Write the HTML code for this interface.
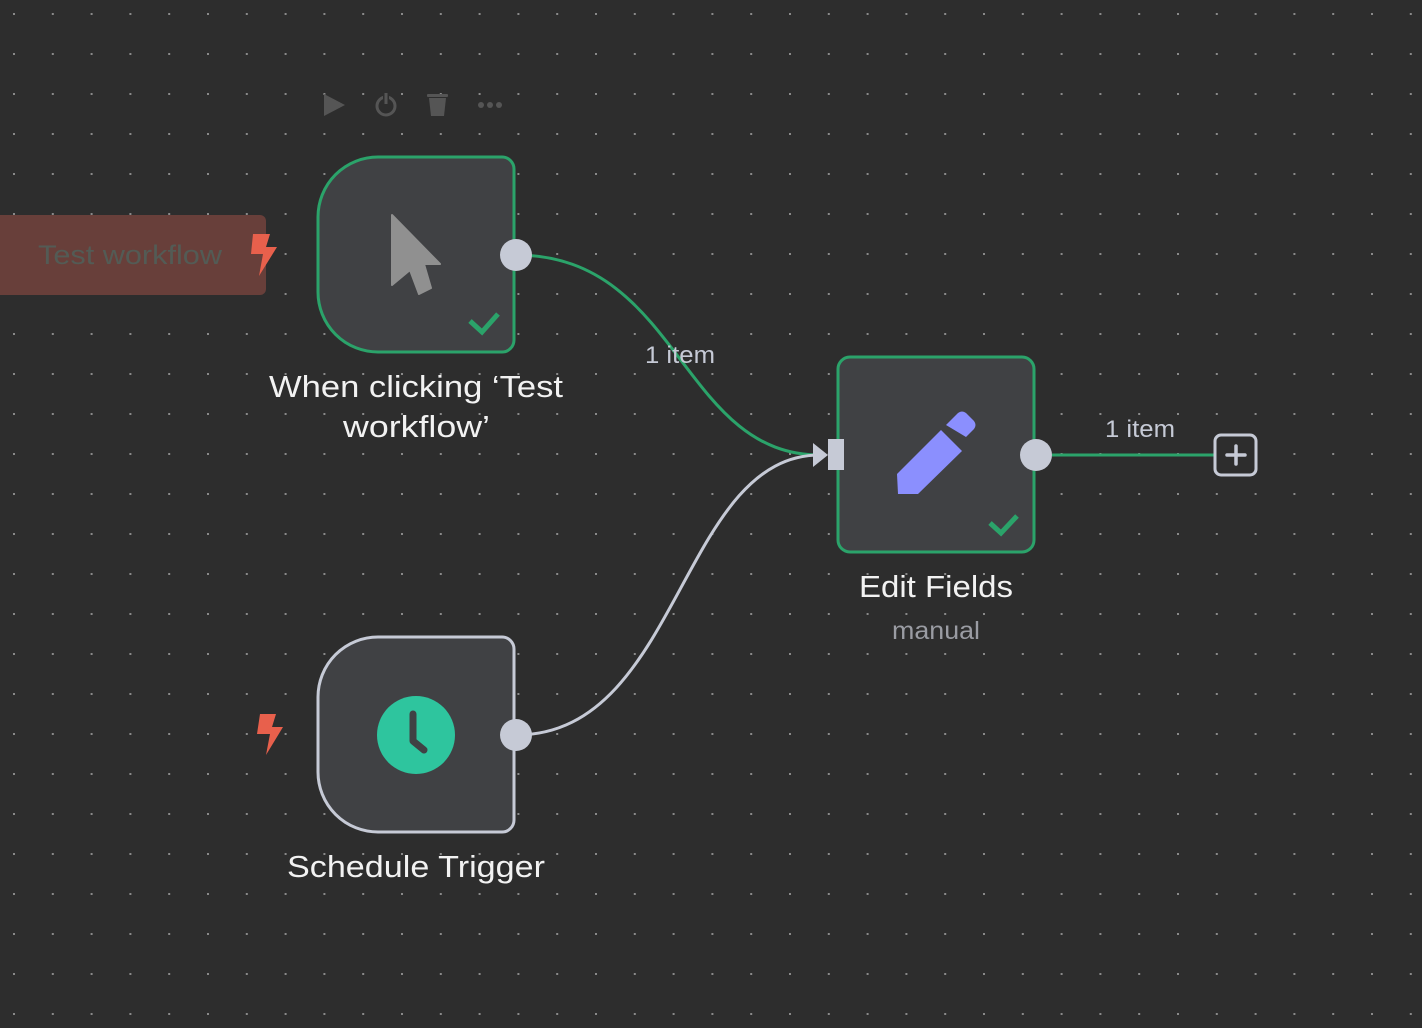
<!DOCTYPE html>
<html><head><meta charset="utf-8"><style>
html,body{margin:0;padding:0;background:#2d2d2d;}
body{width:1422px;height:1028px;overflow:hidden;position:relative;font-family:"Liberation Sans",sans-serif;}
svg{position:absolute;left:0;top:0}
</style></head><body>
<svg width="1422" height="1028" viewBox="0 0 1422 1028">
<defs>
<pattern id="dots" x="13" y="13" width="38.8" height="40" patternUnits="userSpaceOnUse">
<rect x="0" y="0" width="2" height="2" fill="#8a8a8a"/>
</pattern>
</defs>
<rect width="1422" height="1028" fill="#2d2d2d"/>
<rect width="1422" height="1028" fill="url(#dots)"/>

<!-- toolbar -->
<g fill="#555">
<path d="M324,94 L345,105 L324,116 Z"/>
<circle cx="386" cy="106" r="9" fill="none" stroke="#555" stroke-width="3"/>
<rect x="383" y="92" width="6" height="12" fill="#2d2d2d"/>
<rect x="384.5" y="93" width="3" height="11"/>
<rect x="427" y="94" width="21" height="3" rx="1"/>
<path d="M429,98 H446 L444,116 H431 Z"/>
<circle cx="481" cy="105" r="3"/><circle cx="490" cy="105" r="3"/><circle cx="499" cy="105" r="3"/>
</g>

<!-- test workflow button -->
<rect x="-10" y="215" width="276" height="80" rx="6" fill="#683f3a"/>
<text x="38" y="264" textLength="184" lengthAdjust="spacingAndGlyphs" font-size="27" fill="#535b55">Test workflow</text>
<path d="M253,234 H270 L266,247 H277 L259,276 L263,254 H251 Z" fill="#e8604c"/>

<!-- connectors -->
<path d="M516,255 C680,255 680,455 820,455" fill="none" stroke="#2ba36a" stroke-width="3"/>
<path d="M516,735 C680,735 680,455 820,455" fill="none" stroke="#c6cad6" stroke-width="3"/>
<text x="645" y="363" textLength="70" lengthAdjust="spacingAndGlyphs" font-size="24" fill="#c6cad6">1 item</text>

<!-- node 1 -->
<path d="M378,157 H502 A12,12 0 0 1 514,169 V340 A12,12 0 0 1 502,352 H378 A60,60 0 0 1 318,292 V217 A60,60 0 0 1 378,157 Z" fill="#404144" stroke="#2ba36a" stroke-width="3"/>
<path d="M392,215 L440,264 L424,264 L431,288 L419,294 L410,270 L392,285 Z" fill="#909090" stroke="#909090" stroke-width="2" stroke-linejoin="round"/>
<path d="M470,321 L482,332 L498,314" fill="none" stroke="#2ba36a" stroke-width="5"/>
<circle cx="516" cy="255" r="16" fill="#c6cad6"/>
<text x="269" y="397" textLength="294" lengthAdjust="spacingAndGlyphs" font-size="31" fill="#f2f2f2">When clicking ‘Test</text>
<text x="343" y="437" textLength="147" lengthAdjust="spacingAndGlyphs" font-size="31" fill="#f2f2f2">workflow’</text>

<!-- node 2 schedule -->
<path d="M378,637 H502 A12,12 0 0 1 514,649 V820 A12,12 0 0 1 502,832 H378 A60,60 0 0 1 318,772 V697 A60,60 0 0 1 378,637 Z" fill="#404144" stroke="#c6cad6" stroke-width="3"/>
<circle cx="416" cy="735" r="39" fill="#2ec59e"/>
<path d="M413,714 V741 L424,750" fill="none" stroke="#404144" stroke-width="7" stroke-linecap="round" stroke-linejoin="round"/>
<circle cx="516" cy="735" r="16" fill="#c6cad6"/>
<path d="M260,714 H276 L272,727 H283 L266,755 L270,734 H257 Z" fill="#e8604c"/>
<text x="287" y="877" textLength="258" lengthAdjust="spacingAndGlyphs" font-size="31" fill="#f2f2f2">Schedule Trigger</text>

<!-- edit fields -->
<rect x="838" y="357" width="196" height="195" rx="12" fill="#404144" stroke="#2ba36a" stroke-width="3"/>
<path d="M813,443 L828,455 L813,467 Z" fill="#c6cad6"/>
<rect x="828" y="439" width="16" height="31" fill="#c6cad6"/>
<path d="M897,474 L941,430 L962,451 L918,494 L898,494 Z" fill="#8b8ffe"/>
<path d="M946,425 L958,413 Q962,410 966,413 L974,421 Q977,425 974,429 L966,437 Z" fill="#8b8ffe"/>
<path d="M990,523 L1001,533 L1017,516" fill="none" stroke="#2ba36a" stroke-width="5"/>
<circle cx="1036" cy="455" r="16" fill="#c6cad6"/>
<line x1="1052" y1="455" x2="1215" y2="455" stroke="#2ba36a" stroke-width="3"/>
<text x="1105" y="437" textLength="70" lengthAdjust="spacingAndGlyphs" font-size="24" fill="#c6cad6">1 item</text>
<rect x="1215" y="435" width="41" height="40" rx="6" fill="#2d2d2d" stroke="#c6cad6" stroke-width="3"/>
<path d="M1236,446 V464 M1227,455 H1245" stroke="#c6cad6" stroke-width="3.5" stroke-linecap="round"/>
<text x="859" y="597" textLength="154" lengthAdjust="spacingAndGlyphs" font-size="31" fill="#f2f2f2">Edit Fields</text>
<text x="892" y="639" textLength="88" lengthAdjust="spacingAndGlyphs" font-size="25" fill="#9a9ca3">manual</text>
</svg>
</body></html>
